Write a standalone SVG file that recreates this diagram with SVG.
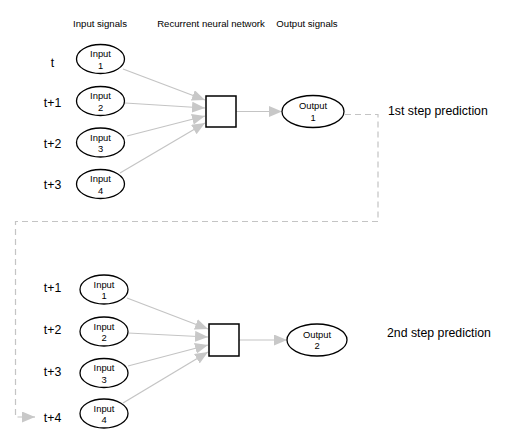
<svg xmlns="http://www.w3.org/2000/svg" width="512" height="447" viewBox="0 0 512 447">
<defs>
<style>
text{font-family:"Liberation Sans",Arial,Helvetica,sans-serif;fill:#000}
.hdr{font-size:9.6px;text-anchor:middle}
.tl{font-size:12.3px;text-anchor:middle}
.pred{font-size:12.3px}
.nt{font-size:9.4px;text-anchor:middle}
.node{fill:#fff;stroke:#000;stroke-width:1.3}
.box{fill:#fff;stroke:#000;stroke-width:1.5}
.edge{fill:none;stroke:#c4c4c4;stroke-width:1.2}
.dash{fill:none;stroke:#c4c4c4;stroke-width:1.2;stroke-dasharray:6 4}
</style>
<marker id="ah" markerUnits="userSpaceOnUse" markerWidth="14" markerHeight="12" refX="13" refY="5.5" orient="auto">
<path d="M0,0 L13,5.5 L0,11 Z" fill="#c8c8c8"/>
</marker>
</defs>
<rect width="512" height="447" fill="#fff"/>
<g id="headers">
<text class="hdr" x="100" y="26.5">Input signals</text>
<text class="hdr" x="211" y="26.5">Recurrent neural network</text>
<text class="hdr" x="307" y="26.5">Output signals</text>
</g>
<g id="time-labels">
<text class="tl" x="52.5" y="67">t</text>
<text class="tl" x="52.5" y="106.5">t+1</text>
<text class="tl" x="52.5" y="147.5">t+2</text>
<text class="tl" x="52.5" y="188.5">t+3</text>
<text class="tl" x="52.5" y="291.5">t+1</text>
<text class="tl" x="52.5" y="333.5">t+2</text>
<text class="tl" x="52.5" y="375.5">t+3</text>
<text class="tl" x="52.5" y="421.5">t+4</text>
</g>
<g id="predictions">
<text class="pred" x="388" y="115">1st step prediction</text>
<text class="pred" x="387" y="337">2nd step prediction</text>
</g>
<g id="connectors">
<path class="edge" d="M123,69 L205,100" marker-end="url(#ah)"/>
<path class="edge" d="M125,103 L205,108" marker-end="url(#ah)"/>
<path class="edge" d="M127,136 L205,116" marker-end="url(#ah)"/>
<path class="edge" d="M120,173 L205,123" marker-end="url(#ah)"/>
<path class="edge" d="M236,111.5 L282,111.5" marker-end="url(#ah)"/>
<path class="edge" d="M127,298 L208,329" marker-end="url(#ah)"/>
<path class="edge" d="M128,333 L208,337" marker-end="url(#ah)"/>
<path class="edge" d="M128,366 L208,345" marker-end="url(#ah)"/>
<path class="edge" d="M123,403 L208,352" marker-end="url(#ah)"/>
<path class="edge" d="M239,340 L287,340" marker-end="url(#ah)"/>
<path class="dash" d="M345,114.5 H378 V221.5 H15.5 V417 H22"/>
<path class="edge" d="M22,417 L35,417" stroke="none" marker-end="url(#ah)"/>
</g>
<g id="in1"><ellipse class="node" cx="100.5" cy="59" rx="24" ry="14.5"/><text class="nt" x="100.5" y="57">Input</text><text class="nt" x="100.5" y="68.5">1</text></g>
<g id="in2"><ellipse class="node" cx="100.5" cy="101" rx="24" ry="14.5"/><text class="nt" x="100.5" y="99">Input</text><text class="nt" x="100.5" y="110.5">2</text></g>
<g id="in3"><ellipse class="node" cx="100.5" cy="142.5" rx="24" ry="14.5"/><text class="nt" x="100.5" y="140.5">Input</text><text class="nt" x="100.5" y="152">3</text></g>
<g id="in4"><ellipse class="node" cx="100.5" cy="184" rx="24" ry="14.5"/><text class="nt" x="100.5" y="182">Input</text><text class="nt" x="100.5" y="193.5">4</text></g>
<g id="rnn1"><rect class="box" x="206" y="96" width="30" height="31"/></g>
<g id="out1"><ellipse class="node" cx="313" cy="111.5" rx="31" ry="16"/><text class="nt" x="313" y="109">Output</text><text class="nt" x="313" y="120.5">1</text></g>
<g id="in1b"><ellipse class="node" cx="104" cy="289.5" rx="24" ry="14.5"/><text class="nt" x="104" y="287.5">Input</text><text class="nt" x="104" y="299">1</text></g>
<g id="in2b"><ellipse class="node" cx="104" cy="331.5" rx="24" ry="14.5"/><text class="nt" x="104" y="329.5">Input</text><text class="nt" x="104" y="341">2</text></g>
<g id="in3b"><ellipse class="node" cx="104" cy="373" rx="24" ry="14.5"/><text class="nt" x="104" y="371">Input</text><text class="nt" x="104" y="382.5">3</text></g>
<g id="in4b"><ellipse class="node" cx="104" cy="413.5" rx="24" ry="14.5"/><text class="nt" x="104" y="411.5">Input</text><text class="nt" x="104" y="423">4</text></g>
<g id="rnn2"><rect class="box" x="209" y="324" width="30" height="32"/></g>
<g id="out2"><ellipse class="node" cx="317" cy="340" rx="30" ry="16"/><text class="nt" x="317" y="337.5">Output</text><text class="nt" x="317" y="349">2</text></g>
</svg>
